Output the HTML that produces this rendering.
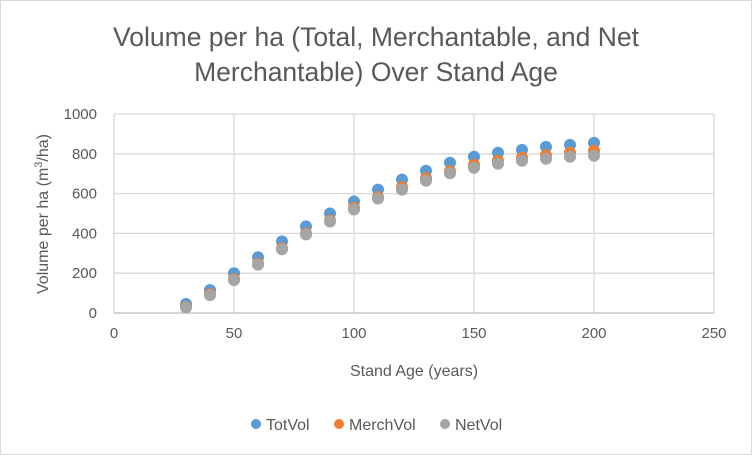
<!DOCTYPE html>
<html><head><meta charset="utf-8"><style>
body{margin:0;background:#fff;}
svg{display:block;font-family:"Liberation Sans",sans-serif;}
</style></head><body>
<svg id="chart" width="752" height="455" viewBox="0 0 752 455">
<rect x="0.5" y="0.5" width="751" height="454" fill="#fff" stroke="#d9d9d9"/>
<text x="376" y="46" text-anchor="middle" font-size="26.5" fill="#595959">Volume per ha (Total, Merchantable, and Net</text>
<text x="376" y="81" text-anchor="middle" font-size="26.5" fill="#595959">Merchantable) Over Stand Age</text>
<g id="grid"></g>
<g id="axes"></g>
<g id="marks"></g>
<text x="414" y="376" text-anchor="middle" font-size="16" fill="#595959">Stand Age (years)</text>
<text transform="translate(48,214) rotate(-90)" text-anchor="middle" font-size="16" fill="#595959">Volume per ha (m<tspan font-size="11" dy="-6">3</tspan><tspan dy="6">/ha)</tspan></text>
<g>
<circle cx="256" cy="424" r="5" fill="#5b9bd5"/>
<text x="266" y="430" font-size="16" fill="#595959">TotVol</text>
<circle cx="339" cy="424" r="5" fill="#ed7d31"/>
<text x="349" y="430" font-size="16" fill="#595959">MerchVol</text>
<circle cx="445" cy="424" r="5" fill="#a5a5a5"/>
<text x="455" y="430" font-size="16" fill="#595959">NetVol</text>
</g>
</svg>
<script>
const ages=[30,40,50,60,70,80,90,100,110,120,130,140,150,160,170,180,190,200];
const totVol=[45,115,200,280,360,435,500,560,620,670,715,755,785,805,820,835,845,855];
const merchVol=[30,95,170,248,325,400,465,528,582,632,678,712,745,765,780,792,805,815];
const netVol=[28,90,165,243,320,395,460,520,575,620,665,702,730,750,765,775,785,790];
const xTicks=[0,50,100,150,200,250];
const yTicks=[0,200,400,600,800,1000];
const X0=114,X1=714,Y0=313,Y1=114;
const xs=v=>X0+(v-0)/(250-0)*(X1-X0);
const ys=v=>Y0-(v-0)/(1000-0)*(Y0-Y1);
const NS="http://www.w3.org/2000/svg";
const grid=document.getElementById('grid'),axes=document.getElementById('axes'),marks=document.getElementById('marks');
xTicks.forEach(t=>{
 const l=document.createElementNS(NS,'line');
 
 
 l.setAttribute('x1',xs(t));l.setAttribute('x2',xs(t));l.setAttribute('y1',Y1);l.setAttribute('y2',Y0);
 l.setAttribute('stroke','#d9d9d9');l.setAttribute('stroke-width','1.3');grid.appendChild(l);
 const tx=document.createElementNS(NS,'text');
 
 
 tx.setAttribute('x',xs(t));tx.setAttribute('y',Y0+25);tx.setAttribute('text-anchor','middle');
 tx.setAttribute('font-size','15');tx.setAttribute('fill','#595959');tx.textContent=t;axes.appendChild(tx);
});
yTicks.forEach(t=>{
 const l=document.createElementNS(NS,'line');
 
 
 l.setAttribute('x1',X0);l.setAttribute('x2',X1);l.setAttribute('y1',ys(t));l.setAttribute('y2',ys(t));
 l.setAttribute('stroke',t===0?'#bfbfbf':'#d9d9d9');l.setAttribute('stroke-width','1.3');grid.appendChild(l);
 const tx=document.createElementNS(NS,'text');
 
 
 tx.setAttribute('x',X0-17);tx.setAttribute('y',ys(t)+5);tx.setAttribute('text-anchor','end');
 tx.setAttribute('font-size','15');tx.setAttribute('fill','#595959');tx.textContent=t;axes.appendChild(tx);
});
function series(vals,color,name){
 vals.forEach((v,i)=>{
  const c=document.createElementNS(NS,'circle');
  
  
  c.setAttribute('cx',xs(ages[i]));c.setAttribute('cy',ys(v));c.setAttribute('r','6');
  c.setAttribute('fill',color);marks.appendChild(c);
 });
}
series(totVol,'#5b9bd5','totvol');
series(merchVol,'#ed7d31','merchvol');
series(netVol,'#a5a5a5','netvol');
</script>
</body></html>
